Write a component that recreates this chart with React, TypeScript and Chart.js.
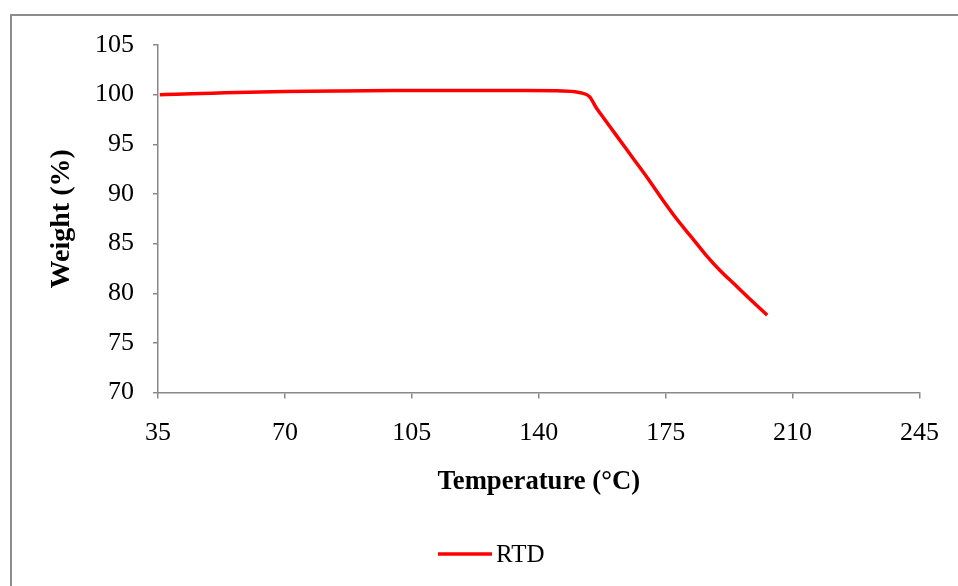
import React, { useEffect, useRef } from "react";
import { Chart, registerables } from "chart.js";

Chart.register(...registerables);

// Thermogravimetric curve of the RTD sample
const temperatures = [
  35.5, 40, 50, 60, 70, 85, 100, 120, 135, 145, 150, 152, 154, 156, 158, 162,
  166, 170, 174, 178, 182, 186, 190, 194, 198, 203,
];
const weights = [
  100.0, 100.05, 100.15, 100.25, 100.32, 100.38, 100.42, 100.43, 100.42, 100.4,
  100.3, 100.15, 99.8, 98.6, 97.6, 95.6, 93.6, 91.6, 89.5, 87.5, 85.7, 83.9,
  82.3, 80.9, 79.5, 77.8,
];
const seriesLabel = "RTD";
const xTitle = "Temperature (°C)";
const yTitle = "Weight (%)";
const xRange = { min: 35, max: 245, step: 35 };
const yRange = { min: 70, max: 105, step: 5 };

const SERIF = "'Liberation Serif', 'Times New Roman', serif";
const AXIS_GRAY = "#898989";
const RED = "#ff0000";

// Legend drawn as a short line sample followed by the series name
const lineLegend = {
  id: "lineLegend",
  afterDraw(chart: any) {
    const ds = chart.data.datasets[0];
    const ctx = chart.ctx;
    const x0 = 438;
    const y = 554;
    ctx.save();
    ctx.strokeStyle = ds.borderColor;
    ctx.lineWidth = 3.5;
    ctx.beginPath();
    ctx.moveTo(x0, y);
    ctx.lineTo(x0 + 54, y);
    ctx.stroke();
    ctx.fillStyle = "#000";
    ctx.font = `25px ${SERIF}`;
    ctx.textBaseline = "middle";
    ctx.textAlign = "left";
    ctx.fillText(ds.label, x0 + 58, y + 1);
    ctx.restore();
  },
};

export default function App() {
  const canvasRef = useRef<HTMLCanvasElement | null>(null);

  useEffect(() => {
    if (!canvasRef.current) return;
    const chart = new Chart(canvasRef.current, {
      type: "line",
      data: {
        datasets: [
          {
            label: seriesLabel,
            data: temperatures.map((t, i) => ({ x: t, y: weights[i] })),
            borderColor: RED,
            backgroundColor: RED,
            borderWidth: 3.5,
            pointRadius: 0,
            cubicInterpolationMode: "monotone",
            fill: false,
          },
        ],
      },
      options: {
        responsive: false,
        animation: false,
        layout: { padding: { left: 45, right: 37, top: 45, bottom: 87.4 } },
        plugins: {
          legend: { display: false },
          tooltip: { enabled: false },
        },
        scales: {
          x: {
            type: "linear",
            min: xRange.min,
            max: xRange.max,
            afterFit(scale: any) {
              scale.height = 106;
            },
            ticks: {
              stepSize: xRange.step,
              color: "#000",
              padding: 19,
              font: { family: SERIF, size: 26 },
              maxRotation: 0,
              autoSkip: false,
            },
            grid: {
              drawOnChartArea: false,
              drawTicks: true,
              tickLength: 6,
              color: AXIS_GRAY,
              lineWidth: 1.5,
            },
            border: { display: true, color: AXIS_GRAY, width: 1.5 },
            title: {
              display: true,
              text: xTitle,
              color: "#000",
              padding: 0,
              font: { family: SERIF, size: 26.7, weight: "bold" },
            },
          },
          y: {
            type: "linear",
            min: yRange.min,
            max: yRange.max,
            afterFit(scale: any) {
              scale.width = 113;
            },
            ticks: {
              stepSize: yRange.step,
              color: "#000",
              padding: 19,
              font: { family: SERIF, size: 26 },
            },
            grid: {
              drawOnChartArea: false,
              drawTicks: true,
              tickLength: 5,
              color: AXIS_GRAY,
              lineWidth: 1.5,
            },
            border: { display: true, color: AXIS_GRAY, width: 1.5 },
            title: {
              display: true,
              text: yTitle,
              color: "#000",
              padding: 0,
              font: { family: SERIF, size: 28, weight: "bold" },
            },
          },
        },
      },
      plugins: [lineLegend],
    } as any);
    return () => chart.destroy();
  }, []);

  return (
    <div
      style={{
        position: "absolute",
        left: 0,
        top: 0,
        width: 958,
        height: 586,
        overflow: "hidden",
        background: "#fff",
      }}
    >
      <div
        style={{
          position: "absolute",
          left: 10,
          top: 14,
          right: -10,
          bottom: -10,
          borderTop: "2px solid #8c8c8c",
          borderLeft: "2px solid #8c8c8c",
        }}
      />
      <canvas
        ref={canvasRef}
        width={958}
        height={586}
        style={{ position: "absolute", left: 0, top: 0, display: "block" }}
      />
    </div>
  );
}
